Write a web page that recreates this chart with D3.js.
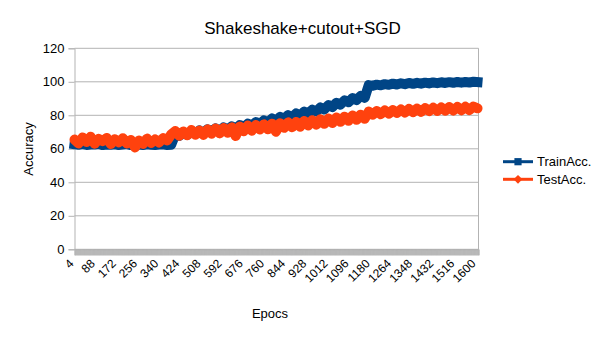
<!DOCTYPE html>
<html><head><meta charset="utf-8">
<script src="https://cdn.jsdelivr.net/npm/d3@7"></script>
<style>
body{margin:0;background:#fff}
svg{display:block;font-family:"Liberation Sans",Arial,sans-serif}
</style>
</head><body>
<svg id="c" width="605" height="340"></svg>
<script>
const chartTitle = "Shakeshake+cutout+SGD";
const xTitle = "Epocs";
const yTitle = "Accuracy";
const seriesNames = ["TrainAcc.", "TestAcc."];
const xTickLabels = [4,88,172,256,340,424,508,592,676,760,844,928,1012,1096,1180,1264,1348,1432,1516,1600];
const yTicks = [0,20,40,60,80,100,120];
const epochs = [4,20,36,52,68,84,100,116,132,148,164,180,196,212,228,244,260,276,292,308,324,340,356,372,388,404,420,436,452,468,484,500,516,532,548,564,580,596,612,628,644,660,676,692,708,724,740,756,772,788,804,820,836,852,868,884,900,916,932,948,964,980,996,1012,1028,1044,1060,1076,1092,1108,1124,1140,1156,1172,1188,1204,1220,1236,1252,1268,1284,1300,1316,1332,1348,1364,1380,1396,1412,1428,1444,1460,1476,1492,1508,1524,1540,1556,1572,1588,1604];
const trainAcc = [62.7,62.4,62.8,62.3,62.6,62.5,62.9,62.2,62.6,62.4,62.7,62.3,62.5,62.8,62.2,62.4,62.6,62.3,62.7,62.4,62.2,62.5,62.7,62.3,62.4,
68.6,67.8,69.4,68.3,70.2,69.0,71.0,69.5,71.6,70.3,72.2,70.6,72.8,71.5,73.4,71.9,74.2,72.9,75.0,73.6,76.0,74.8,77.0,75.7,78.1,76.8,79.1,77.7,80.1,78.9,81.1,79.8,82.2,80.9,83.4,82.2,84.7,83.5,86.1,84.9,87.5,86.4,88.9,87.8,90.3,89.1,91.6,90.4,
98.0,97.6,98.3,97.9,98.6,98.2,98.9,98.4,99.1,98.6,99.3,98.8,99.4,98.9,99.5,99.0,99.6,99.2,99.7,99.3,99.8,99.4,99.9,99.5,99.9,99.6,100.0,99.8];
const testAcc = [65.5,63.2,66.8,64.1,67.2,63.0,65.9,64.6,66.5,62.8,65.7,63.9,66.3,63.1,65.2,60.8,64.9,62.9,66.1,63.5,65.6,63.8,66.4,65.0,68.6,
70.6,67.8,70.3,68.1,71.2,68.4,70.9,68.3,71.6,69.0,72.1,69.2,72.4,69.6,72.8,67.6,73.3,70.5,73.9,70.8,74.2,71.5,74.6,71.6,75.0,70.2,75.3,72.5,75.8,72.9,76.0,73.2,76.6,73.9,77.0,74.4,77.6,74.9,78.1,75.4,78.7,76.1,79.2,76.7,79.9,77.3,80.4,77.9,
82.2,80.4,82.5,80.7,82.9,81.0,83.1,81.4,83.5,81.6,83.8,81.9,84.0,82.1,84.3,82.5,84.5,82.6,84.7,82.8,84.9,82.9,85.0,83.0,85.1,83.1,85.2,84.2];
const colors = ["#004586", "#ff420e"];

const svg = d3.select("#c");
const L = 74.5, R = 478.5, T = 48.3, B = 249.3;
const x = d3.scaleLinear().domain([4, 1608]).range([L, R]);
const y = d3.scaleLinear().domain([0, 120]).range([B, T]);
const grid = "#b3b3b3";

// horizontal gridlines
svg.append("g").selectAll("line").data(yTicks).join("line")
  .attr("x1", L).attr("x2", R)
  .attr("y1", d => y(d)).attr("y2", d => y(d))
  .attr("stroke", grid).attr("stroke-width", 1);
// right border
svg.append("line").attr("x1", R).attr("x2", R).attr("y1", T).attr("y2", B)
  .attr("stroke", grid);

// y axis
const ya = svg.append("g").attr("transform", `translate(${L},0)`)
  .call(d3.axisLeft(y).tickValues(yTicks).tickSize(6).tickPadding(4));
ya.selectAll("path,line").attr("stroke", grid);
ya.selectAll("text").attr("font-size", 13).attr("fill", "#000")
  .attr("font-family", '"Liberation Sans",Arial,sans-serif');

// x axis with a tick for every category
const xa = svg.append("g").attr("transform", `translate(0,${B})`)
  .call(d3.axisBottom(x).tickValues(d3.range(4, 1609)).tickSize(6).tickFormat(""));
xa.selectAll("path,line").attr("stroke", grid).attr("stroke-width", 0.5);
xa.select("path").attr("stroke-width", 1);

svg.append("g").selectAll("text").data(xTickLabels).join("text")
  .attr("transform", d => `translate(${x(d)},${B + 15}) rotate(-45)`)
  .attr("text-anchor", "end")
  .attr("font-size", 12)
  .attr("fill", "#000")
  .text(d => d);

// series: dense markers in the original merge into a thick band
const series = [
  {name: seriesNames[0], values: trainAcc, color: colors[0], shape: "square", lw: 10, cap: "square"},
  {name: seriesNames[1], values: testAcc, color: colors[1], shape: "diamond", lw: 10, cap: "round"}
];
const line = d3.line().x(d => x(d[0])).y(d => y(d[1]));
const sq = r => `M${-r},${-r}h${2*r}v${2*r}h${-2*r}Z`;
const dm = r => `M0,${-r}L${r},0L0,${r}L${-r},0Z`;

series.forEach(s => {
  const pts = epochs.map((e, i) => [e, s.values[i]]);
  svg.append("path").attr("d", line(pts)).attr("fill", "none")
    .attr("stroke", s.color).attr("stroke-width", s.lw)
    .attr("stroke-linejoin", "round").attr("stroke-linecap", s.cap);
});

// legend
const legY = [161.7, 179.3];
series.forEach((s, i) => {
  const g = svg.append("g");
  g.append("line").attr("x1", 503).attr("x2", 533).attr("y1", legY[i]).attr("y2", legY[i])
    .attr("stroke", s.color).attr("stroke-width", 3);
  g.append("path").attr("transform", `translate(518,${legY[i]})`)
    .attr("d", s.shape === "square" ? sq(3.6) : dm(4.4)).attr("fill", s.color);
  g.append("text").attr("x", 537).attr("y", legY[i] + 4.6).attr("font-size", 13)
    .attr("fill", "#000").text(s.name);
});

// titles
svg.append("text").attr("x", 302.5).attr("y", 34).attr("text-anchor", "middle")
  .attr("font-size", 17).attr("fill", "#000").text(chartTitle);
svg.append("text").attr("x", 270).attr("y", 317.5).attr("text-anchor", "middle")
  .attr("font-size", 13).attr("fill", "#000").text(xTitle);
svg.append("text").attr("transform", "translate(32.5,149) rotate(-90)")
  .attr("text-anchor", "middle").attr("font-size", 13).attr("fill", "#000").text(yTitle);
</script>
</body></html>
